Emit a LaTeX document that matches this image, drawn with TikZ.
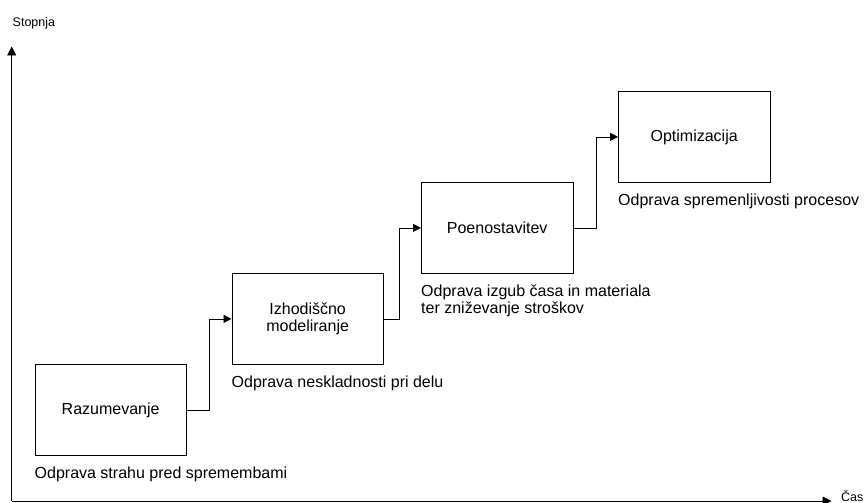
\documentclass[tikz,border=0pt]{standalone}
\usepackage{fontspec}
\setmainfont{Liberation Sans}
\usetikzlibrary{arrows.meta}
\begin{document}
\begin{tikzpicture}[x=1pt,y=-1pt,
  stage/.style={draw, line width=0.8pt, minimum width=151.5pt, minimum height=91pt,
    inner sep=0pt, align=center, anchor=north west,
    font=\fontsize{16}{17}\selectfont},
  note/.style={anchor=base west, inner sep=0pt, font=\fontsize{16}{18}\selectfont},
  axislabel/.style={anchor=base west, inner sep=0pt, font=\fontsize{12.5}{14}\selectfont},
  flow/.style={line width=0.8pt, -{Triangle[length=8pt,width=8pt]}},
  axisline/.style={line width=0.8pt, -{Triangle[length=9pt,width=9pt]}}]

  % canvas
  \useasboundingbox (0,0) rectangle (865,503);

  % axes
  \coordinate (o) at (11.7,501);
  \coordinate (ytop) at (11.7,46.5);
  \coordinate (xend) at (831.5,501);
  \draw[axisline] (o) -- (ytop);
  \draw[axisline] (o) -- (xend);
  \node[axislabel] (ylab) at (12.5,27) {Stopnja};
  \node[axislabel] (xlab) at (841,501) {Čas};

  % stages
  \node[stage] (b1) at (34.5,364) {Razumevanje};
  \node[stage] (b2) at (231.5,273) {Izhodiščno\\modeliranje};
  \node[stage] (b3) at (421,182) {Poenostavitev};
  \node[stage] (b4) at (618,91) {Optimizacija};

  % descriptions under the stages
  \node[note] (l1) at (34.5,478) {Odprava strahu pred spremembami};
  \node[note] (l2) at (231.5,387) {Odprava neskladnosti pri delu};
  \node[note] (l3) at (421,296) {Odprava izgub časa in materiala};
  \node[note] (l3b) at (421,313) {ter zniževanje stroškov};
  \node[note] (l4) at (618,205) {Odprava spremenljivosti procesov};

  % step connectors
  \draw[flow] (b1.east) -- ++(23,0) |- (b2.west);
  \draw[flow] (b2.east) -- ++(16,0) |- (b3.west);
  \draw[flow] (b3.east) -- ++(22.7,0) |- (b4.west);
\end{tikzpicture}
\end{document}
